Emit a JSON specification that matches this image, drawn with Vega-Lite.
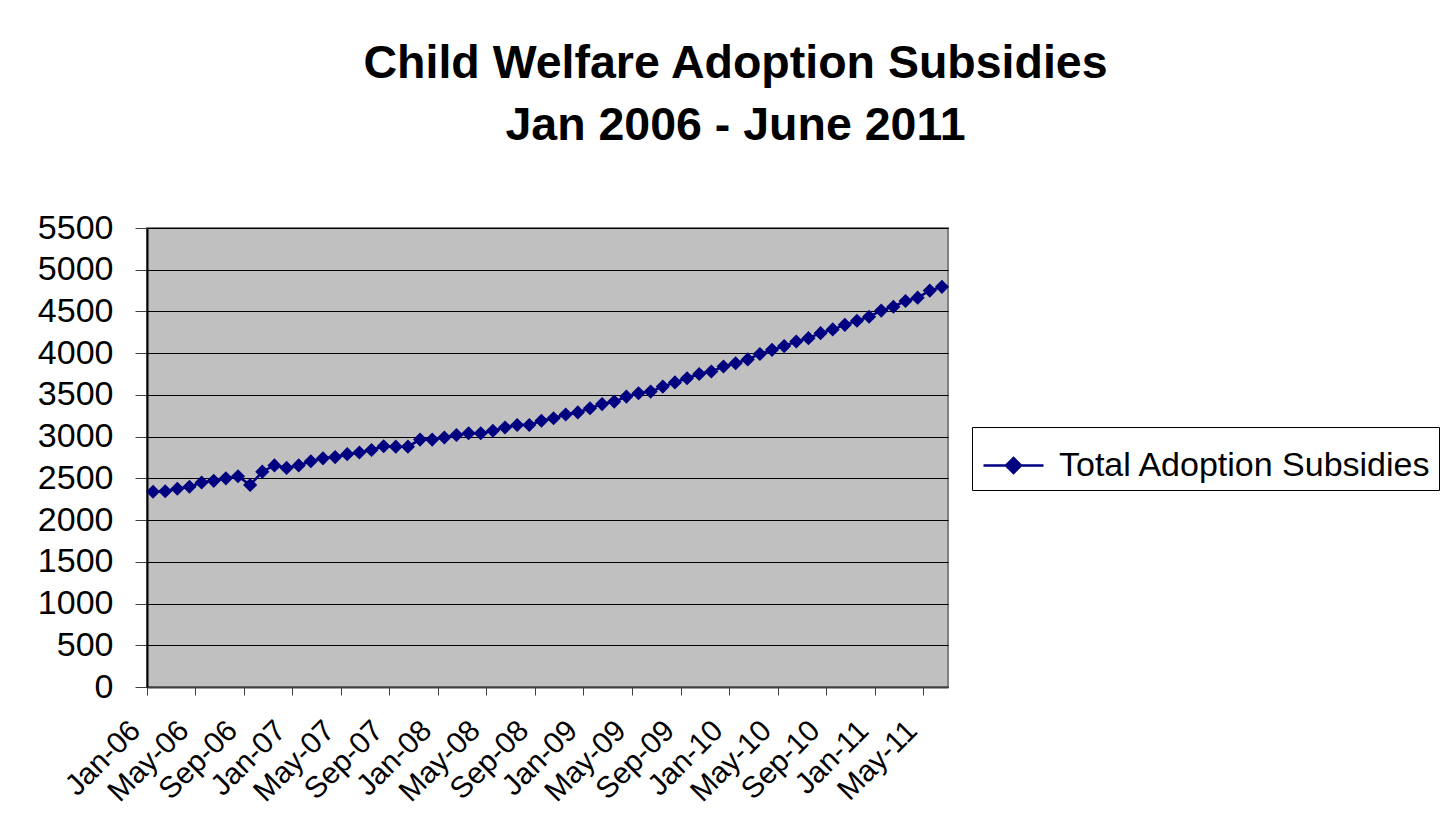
{
  "$schema": "https://vega.github.io/schema/vega-lite/v6.json",
  "autosize": "none",
  "width": 801,
  "height": 459,
  "padding": {"left": 147, "top": 228, "right": 496, "bottom": 136},
  "background": "white",
  "title": {
    "text": ["Child Welfare Adoption Subsidies", "Jan 2006 - June 2011"],
    "font": "Liberation Sans",
    "fontSize": 46.5,
    "fontWeight": "bold",
    "color": "black",
    "lineHeight": 62,
    "anchor": "middle",
    "frame": "group",
    "dx": 188,
    "offset": 62
  },
  "data": {
    "values": [
      {"month": "Jan-06", "value": 2340, "series": "Total Adoption Subsidies"},
      {"month": "Feb-06", "value": 2345, "series": "Total Adoption Subsidies"},
      {"month": "Mar-06", "value": 2375, "series": "Total Adoption Subsidies"},
      {"month": "Apr-06", "value": 2400, "series": "Total Adoption Subsidies"},
      {"month": "May-06", "value": 2450, "series": "Total Adoption Subsidies"},
      {"month": "Jun-06", "value": 2470, "series": "Total Adoption Subsidies"},
      {"month": "Jul-06", "value": 2500, "series": "Total Adoption Subsidies"},
      {"month": "Aug-06", "value": 2525, "series": "Total Adoption Subsidies"},
      {"month": "Sep-06", "value": 2420, "series": "Total Adoption Subsidies"},
      {"month": "Oct-06", "value": 2580, "series": "Total Adoption Subsidies"},
      {"month": "Nov-06", "value": 2655, "series": "Total Adoption Subsidies"},
      {"month": "Dec-06", "value": 2625, "series": "Total Adoption Subsidies"},
      {"month": "Jan-07", "value": 2655, "series": "Total Adoption Subsidies"},
      {"month": "Feb-07", "value": 2705, "series": "Total Adoption Subsidies"},
      {"month": "Mar-07", "value": 2740, "series": "Total Adoption Subsidies"},
      {"month": "Apr-07", "value": 2755, "series": "Total Adoption Subsidies"},
      {"month": "May-07", "value": 2790, "series": "Total Adoption Subsidies"},
      {"month": "Jun-07", "value": 2810, "series": "Total Adoption Subsidies"},
      {"month": "Jul-07", "value": 2840, "series": "Total Adoption Subsidies"},
      {"month": "Aug-07", "value": 2885, "series": "Total Adoption Subsidies"},
      {"month": "Sep-07", "value": 2880, "series": "Total Adoption Subsidies"},
      {"month": "Oct-07", "value": 2880, "series": "Total Adoption Subsidies"},
      {"month": "Nov-07", "value": 2965, "series": "Total Adoption Subsidies"},
      {"month": "Dec-07", "value": 2965, "series": "Total Adoption Subsidies"},
      {"month": "Jan-08", "value": 2990, "series": "Total Adoption Subsidies"},
      {"month": "Feb-08", "value": 3020, "series": "Total Adoption Subsidies"},
      {"month": "Mar-08", "value": 3040, "series": "Total Adoption Subsidies"},
      {"month": "Apr-08", "value": 3040, "series": "Total Adoption Subsidies"},
      {"month": "May-08", "value": 3070, "series": "Total Adoption Subsidies"},
      {"month": "Jun-08", "value": 3110, "series": "Total Adoption Subsidies"},
      {"month": "Jul-08", "value": 3140, "series": "Total Adoption Subsidies"},
      {"month": "Aug-08", "value": 3140, "series": "Total Adoption Subsidies"},
      {"month": "Sep-08", "value": 3190, "series": "Total Adoption Subsidies"},
      {"month": "Oct-08", "value": 3220, "series": "Total Adoption Subsidies"},
      {"month": "Nov-08", "value": 3265, "series": "Total Adoption Subsidies"},
      {"month": "Dec-08", "value": 3290, "series": "Total Adoption Subsidies"},
      {"month": "Jan-09", "value": 3340, "series": "Total Adoption Subsidies"},
      {"month": "Feb-09", "value": 3390, "series": "Total Adoption Subsidies"},
      {"month": "Mar-09", "value": 3420, "series": "Total Adoption Subsidies"},
      {"month": "Apr-09", "value": 3480, "series": "Total Adoption Subsidies"},
      {"month": "May-09", "value": 3520, "series": "Total Adoption Subsidies"},
      {"month": "Jun-09", "value": 3540, "series": "Total Adoption Subsidies"},
      {"month": "Jul-09", "value": 3600, "series": "Total Adoption Subsidies"},
      {"month": "Aug-09", "value": 3650, "series": "Total Adoption Subsidies"},
      {"month": "Sep-09", "value": 3700, "series": "Total Adoption Subsidies"},
      {"month": "Oct-09", "value": 3750, "series": "Total Adoption Subsidies"},
      {"month": "Nov-09", "value": 3780, "series": "Total Adoption Subsidies"},
      {"month": "Dec-09", "value": 3840, "series": "Total Adoption Subsidies"},
      {"month": "Jan-10", "value": 3880, "series": "Total Adoption Subsidies"},
      {"month": "Feb-10", "value": 3925, "series": "Total Adoption Subsidies"},
      {"month": "Mar-10", "value": 3990, "series": "Total Adoption Subsidies"},
      {"month": "Apr-10", "value": 4040, "series": "Total Adoption Subsidies"},
      {"month": "May-10", "value": 4085, "series": "Total Adoption Subsidies"},
      {"month": "Jun-10", "value": 4140, "series": "Total Adoption Subsidies"},
      {"month": "Jul-10", "value": 4180, "series": "Total Adoption Subsidies"},
      {"month": "Aug-10", "value": 4240, "series": "Total Adoption Subsidies"},
      {"month": "Sep-10", "value": 4285, "series": "Total Adoption Subsidies"},
      {"month": "Oct-10", "value": 4340, "series": "Total Adoption Subsidies"},
      {"month": "Nov-10", "value": 4388, "series": "Total Adoption Subsidies"},
      {"month": "Dec-10", "value": 4437, "series": "Total Adoption Subsidies"},
      {"month": "Jan-11", "value": 4510, "series": "Total Adoption Subsidies"},
      {"month": "Feb-11", "value": 4557, "series": "Total Adoption Subsidies"},
      {"month": "Mar-11", "value": 4625, "series": "Total Adoption Subsidies"},
      {"month": "Apr-11", "value": 4665, "series": "Total Adoption Subsidies"},
      {"month": "May-11", "value": 4750, "series": "Total Adoption Subsidies"},
      {"month": "Jun-11", "value": 4795, "series": "Total Adoption Subsidies"}
    ]
  },
  "encoding": {
    "x": {
      "field": "month",
      "type": "ordinal",
      "sort": null,
      "scale": {"type": "band", "paddingInner": 0, "paddingOuter": 0},
      "axis": {
        "title": null,
        "values": ["Jan-06","May-06","Sep-06","Jan-07","May-07","Sep-07","Jan-08","May-08","Sep-08","Jan-09","May-09","Sep-09","Jan-10","May-10","Sep-10","Jan-11","May-11"],
        "bandPosition": 0,
        "labelAngle": -45,
        "labelFont": "Liberation Sans",
        "labelFontSize": 30,
        "labelColor": "black",
        "labelPadding": 20,
        "labelOffset": -28,
        "tickSize": 8,
        "tickColor": "#404040",
        "domainColor": "#404040",
        "domainWidth": 2,
        "grid": false
      }
    },
    "y": {
      "field": "value",
      "type": "quantitative",
      "scale": {"domain": [0, 5500], "nice": false},
      "axis": {
        "title": null,
        "format": "d",
        "values": [0,500,1000,1500,2000,2500,3000,3500,4000,4500,5000,5500],
        "labelFont": "Liberation Sans",
        "labelFontSize": 34,
        "labelColor": "black",
        "labelPadding": 22,
        "tickSize": 12,
        "tickColor": "#404040",
        "domainColor": "black",
        "domainWidth": 2,
        "grid": true,
        "gridColor": "black",
        "gridWidth": 1
      }
    },
    "color": {
      "field": "series",
      "type": "nominal",
      "scale": {"range": ["#000080"]},
      "legend": {
        "title": null,
        "orient": "none",
        "legendX": 825,
        "legendY": 199,
        "strokeColor": "black",
        "fillColor": "white",
        "padding": 7,
        "labelFont": "Liberation Sans",
        "labelFontSize": 34,
        "labelColor": "black",
        "labelOffset": 14,
        "labelLimit": 600,
        "symbolType": "M -1 0 L 1 0 M 0 -0.25 L 0.25 0 L 0 0.25 L -0.25 0 Z",
        "symbolSize": 3600,
        "symbolStrokeWidth": 2.5,
        "symbolFillColor": "#000080",
        "symbolStrokeColor": "#000080",
        "symbolOffset": 3
      }
    }
  },
  "layer": [
    {"mark": {"type": "line", "strokeWidth": 2.5}},
    {"mark": {"type": "point", "shape": "diamond", "filled": true, "size": 200, "opacity": 1}}
  ],
  "config": {
    "view": {"fill": "#C0C0C0", "stroke": "#808080", "strokeWidth": 2}
  }
}
